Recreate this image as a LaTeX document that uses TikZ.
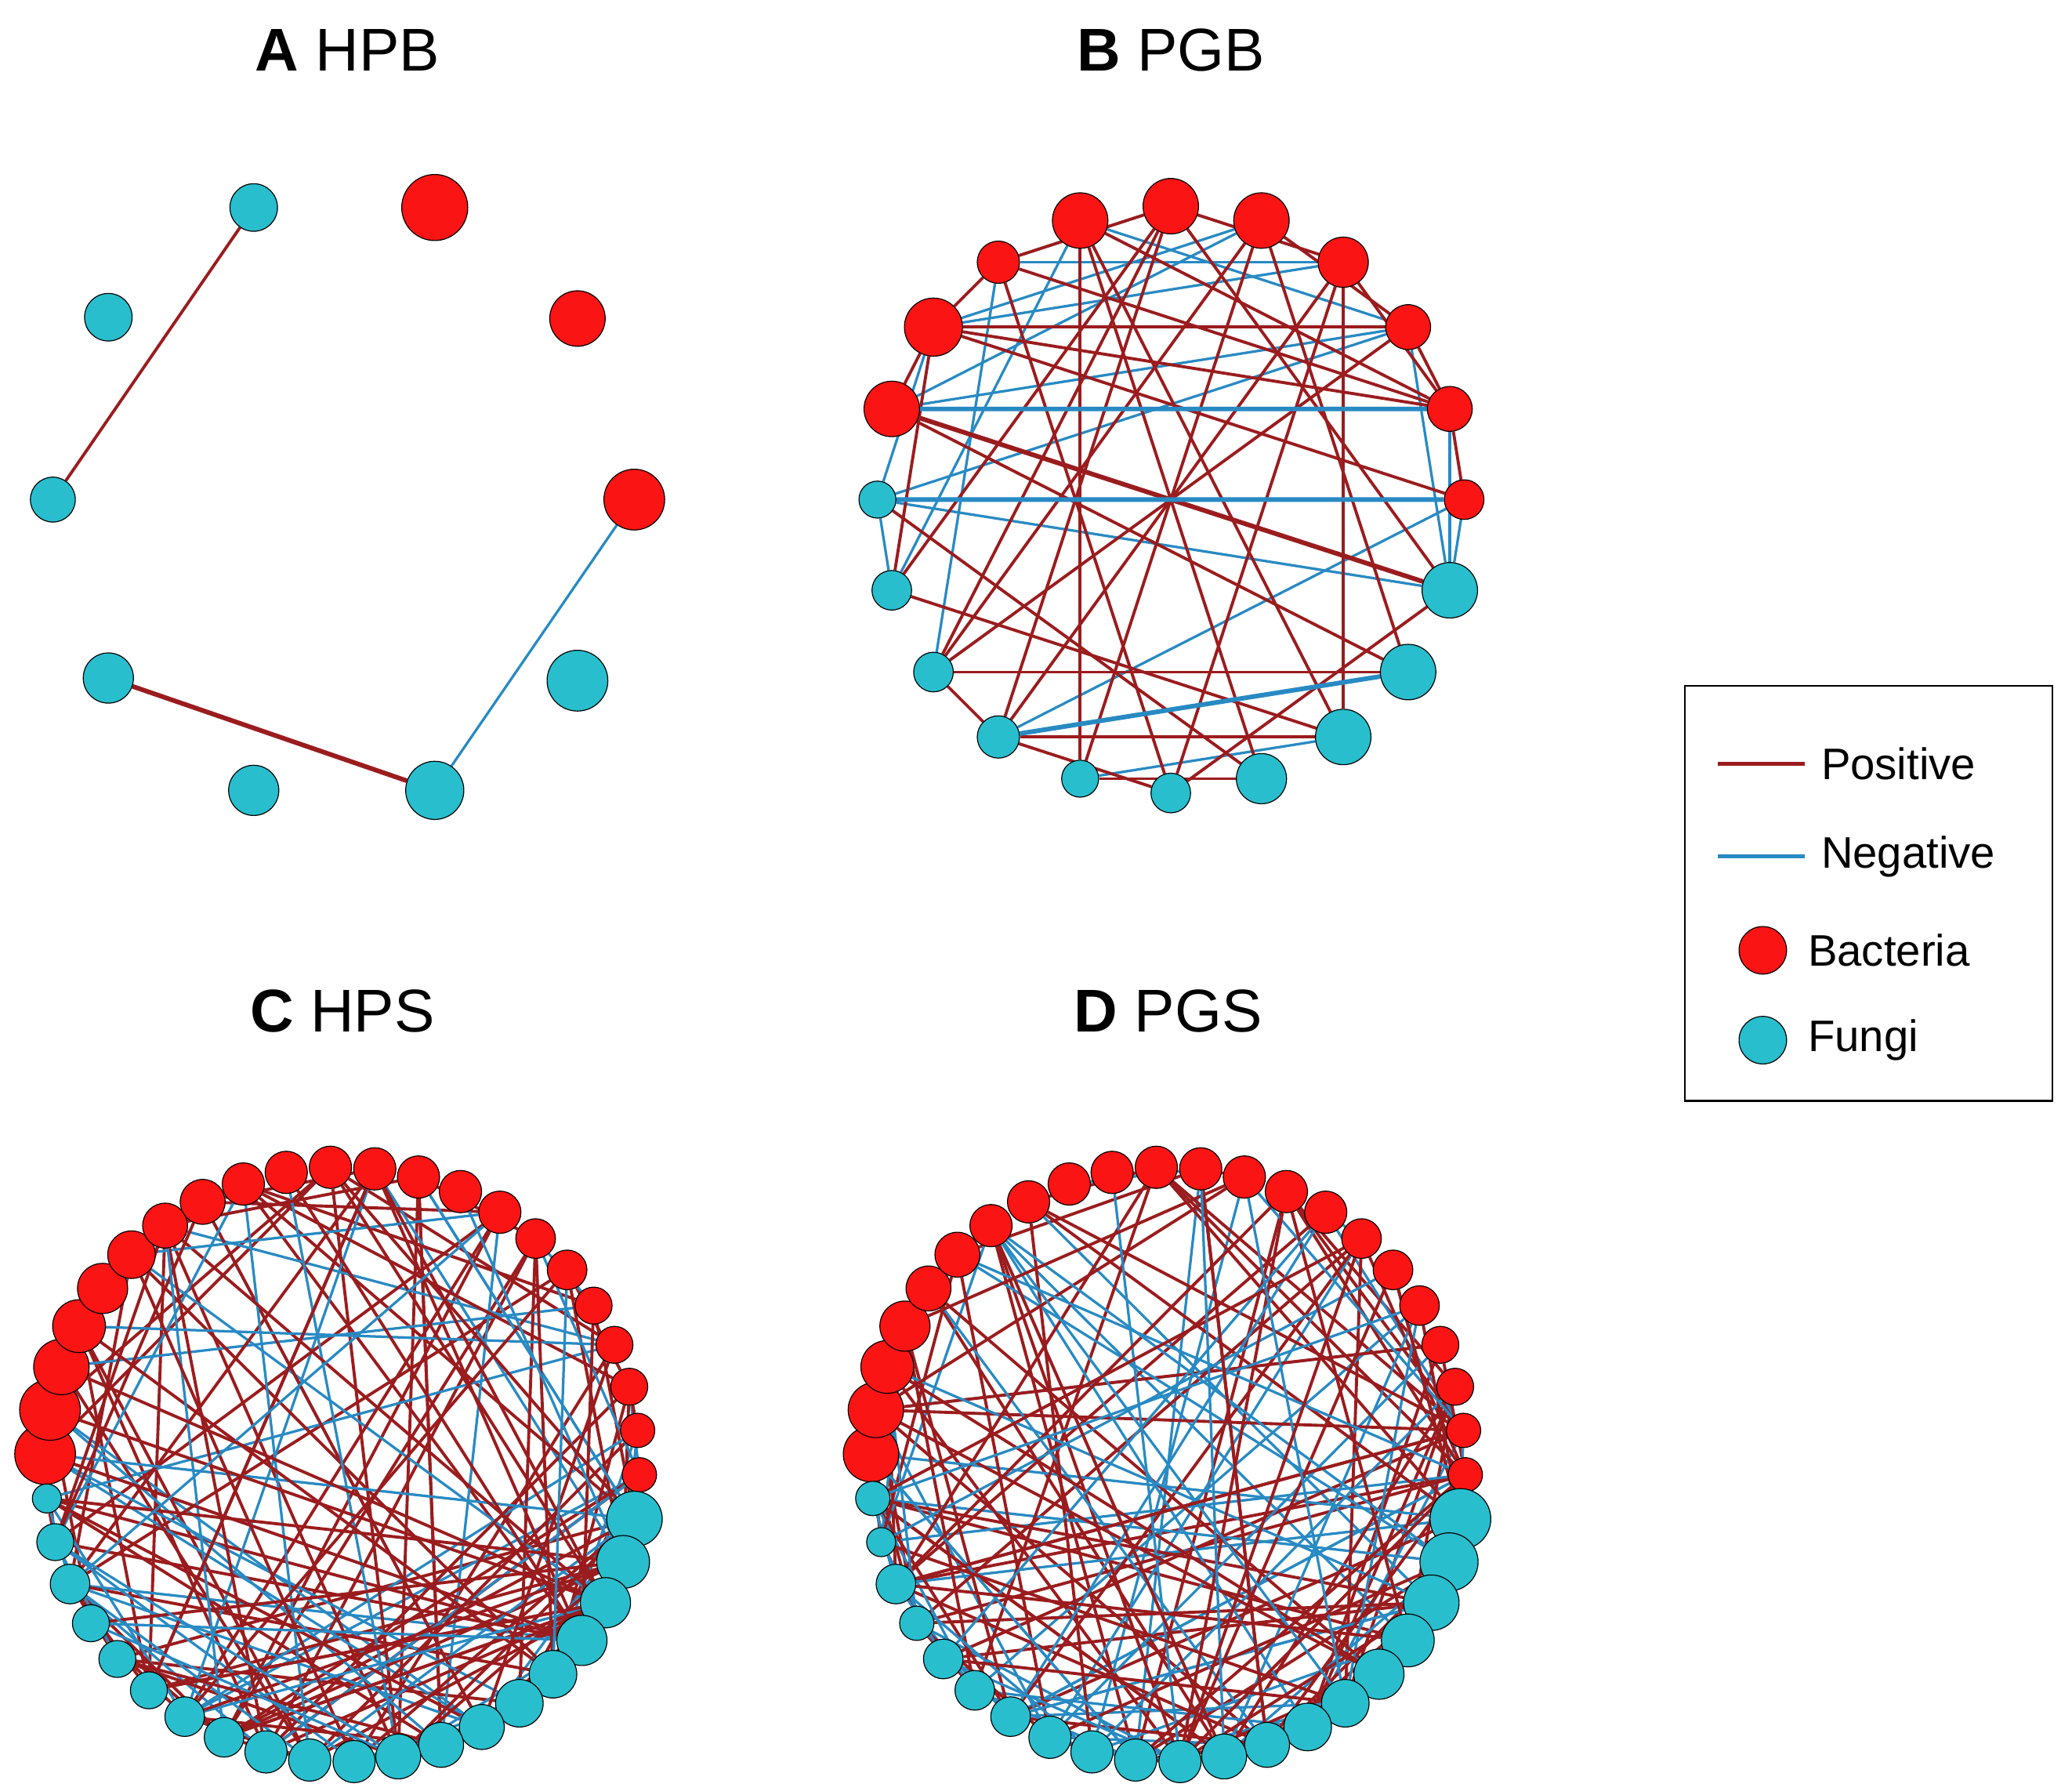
\documentclass[tikz,border=0pt]{standalone}
\usepackage{fontspec}
\setmainfont{Liberation Sans}
\pgfdeclarelayer{back}
\pgfdeclarelayer{bg}
\pgfsetlayers{back,bg,main}
\definecolor{bac}{RGB}{250,20,20}
\definecolor{fun}{RGB}{40,190,205}
\definecolor{pos}{RGB}{155,28,30}
\definecolor{neg}{RGB}{40,138,195}
\tikzset{
 vb/.style={circle,draw=black,line width=0.4pt,fill=bac,inner sep=0pt},
 vf/.style={circle,draw=black,line width=0.4pt,fill=fun,inner sep=0pt},
 ep/.style={draw=pos,line width=1.3pt},
 en/.style={draw=neg,line width=1.1pt},
 ttl/.style={font=\fontsize{26}{30}\selectfont},
 lg/.style={font=\fontsize{19}{22}\selectfont,anchor=west}
}
\begin{document}
\begin{tikzpicture}[x=0.02cm,y=-0.02cm]
\useasboundingbox (0,0) rectangle (1568,1355);
\begin{pgfonlayer}{back}
\fill[white] (0,0) rectangle (1568,1355);
\end{pgfonlayer}
% titles
\node[ttl] (tA) at (263,38) {\textbf{A} HPB};
\node[ttl] (tB) at (886,38) {\textbf{B} PGB};
\node[ttl] (tC) at (259,765) {\textbf{C} HPS};
\node[ttl] (tD) at (884,765) {\textbf{D} PGS};
% Panel A
\node[vf,minimum size=36*0.02cm] (a1) at (192,157) {};
\node[vb,minimum size=50*0.02cm] (a2) at (329,157) {};
\node[vf,minimum size=36*0.02cm] (a3) at (82,240) {};
\node[vb,minimum size=42*0.02cm] (a4) at (437,241) {};
\node[vf,minimum size=34*0.02cm] (a5) at (40,378) {};
\node[vb,minimum size=46*0.02cm] (a6) at (480,378) {};
\node[vf,minimum size=38*0.02cm] (a7) at (82,513) {};
\node[vf,minimum size=46*0.02cm] (a8) at (437,515) {};
\node[vf,minimum size=38*0.02cm] (a9) at (192,598) {};
\node[vf,minimum size=44*0.02cm] (a10) at (329,598) {};
\begin{pgfonlayer}{bg}
\draw[ep] (a1)--(a5);
\draw[ep,line width=2pt] (a7)--(a10);
\draw[en] (a6)--(a10);
\end{pgfonlayer}
% Panel B
\foreach \i/\r in {0/21,1/21,2/19,3/17,4/17,5/15,6/21,7/21,8/21,9/19,10/15,11/14,12/16,13/15,14/15,15/14,16/21,17/22,18/16,19/21}{
 \pgfmathsetmacro\ang{90-18*\i}
 \ifnum\i>5 \ifnum\i<16 \def\st{vf}\else\def\st{vb}\fi\else\def\st{vb}\fi
 \node[\st,minimum size=\r*0.04cm] (b\i) at ({886+222*cos(\ang)},{378-222*sin(\ang)}) {};
}
\begin{pgfonlayer}{bg}
\foreach \a/\b in {16/4,15/5,7/12,11/8,17/1,17/2,16/1,18/2,15/3,14/19,13/18,3/6,4/6,15/6,19/3,18/0,16/3,12/5,15/14,5/6,17/15}
 \draw[en] (b\a)--(b\b);
\foreach \a/\b in {16/6,17/5,19/8,19/9,0/14,0/13,1/13,1/11,2/12,2/10,3/17,4/18,4/19,17/4,16/7,15/9,14/8,13/7,12/8,13/12,11/9,10/6,0/18,0/2,1/3,2/4,16/17,17/18,12/0,11/19,6/0,7/1,8/2,13/3,14/17,18/10,3/4,4/5,12/10}
 \draw[ep] (b\a)--(b\b);
\draw[ep,line width=2pt] (b16)--(b6);
\draw[en,line width=2pt] (b16)--(b4) (b15)--(b5) (b7)--(b12);
\end{pgfonlayer}
% Panel C
\foreach \i/\r in {0/23,1/23,2/21,3/20,4/19,5/18,6/17,7/17,8/16,9/16,10/16,11/16,12/16,13/16,14/16,15/15,16/15,17/14,18/14,19/14,20/13,21/13,
 22/21,23/20,24/19,25/19,26/18,27/18,28/17,29/17,30/17,31/16,32/16,33/16,34/15,35/15,36/14,37/14,38/14,39/15,40/14,41/11}{
 \pgfmathsetmacro\ang{178-360/42*\i}
 \ifnum\i<22 \def\st{vb}\else\def\st{vf}\fi
 \node[\st,minimum size=\r*0.04cm] (c\i) at ({259+225*cos(\ang)},{1108-225*sin(\ang)}) {};
}
\begin{pgfonlayer}{bg}
\pgfmathsetseed{11}
\foreach \k in {1,...,170}{
 \pgfmathtruncatemacro\a{random(0,41)}
 \pgfmathtruncatemacro\b{random(0,9)<6 ? random(22,41) : random(0,41)}
 \pgfmathtruncatemacro\c{random(0,9)}
 \ifnum\c<6 \draw[ep] (c\a)--(c\b); \else \draw[en] (c\a)--(c\b); \fi
}
\end{pgfonlayer}
% Panel D
\foreach \i/\r in {0/21,1/21,2/20,3/19,4/17,5/17,6/16,7/16,8/16,9/16,10/16,11/16,12/16,13/16,14/16,15/15,16/15,17/15,18/14,19/14,20/13,21/13,
 22/23,23/22,24/21,25/20,26/19,27/18,28/18,29/17,30/17,31/16,32/16,33/16,34/16,35/15,36/15,37/15,38/13,39/15,40/11,41/13}{
 \pgfmathsetmacro\ang{178-360/42*\i}
 \ifnum\i<22 \def\st{vb}\else\def\st{vf}\fi
 \node[\st,minimum size=\r*0.04cm] (d\i) at ({884+225*cos(\ang)},{1108-225*sin(\ang)}) {};
}
\begin{pgfonlayer}{bg}
\pgfmathsetseed{23}
\foreach \k in {1,...,180}{
 \pgfmathtruncatemacro\a{random(0,41)}
 \pgfmathtruncatemacro\b{random(0,9)<6 ? random(22,41) : random(0,41)}
 \pgfmathtruncatemacro\c{random(0,9)}
 \ifnum\c<6 \draw[ep] (d\a)--(d\b); \else \draw[en] (d\a)--(d\b); \fi
}
\end{pgfonlayer}
% Legend
\draw[line width=0.8pt] (1275,519) rectangle (1553,833);
\coordinate (p1) at (1300,578); \coordinate (p2) at (1366,578);
\coordinate (n1) at (1300,648); \coordinate (n2) at (1366,648);
\draw[ep,line width=1.6pt] (p1)--(p2);
\draw[en,line width=1.6pt] (n1)--(n2);
\node[lg] (lp) at (1372,578) {Positive};
\node[lg] (ln) at (1372,648) {Negative};
\node[vb,minimum size=36*0.02cm] (lb) at (1334,719) {};
\node[vf,minimum size=36*0.02cm] (lf) at (1334,787) {};
\node[lg] (lbt) at (1362,719) {Bacteria};
\node[lg] (lft) at (1362,787) {Fungi};
\end{tikzpicture}
\end{document}
